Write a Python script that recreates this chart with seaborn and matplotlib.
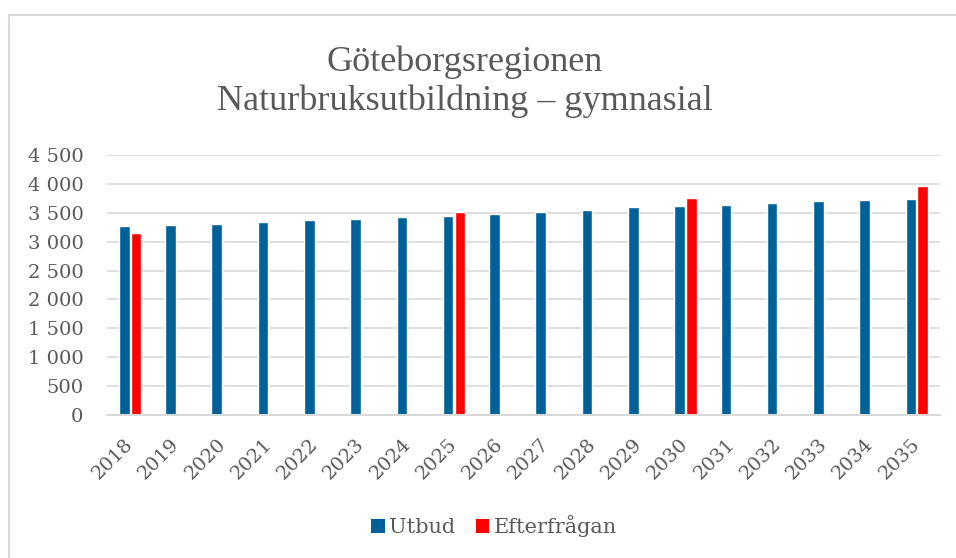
import matplotlib
matplotlib.use("Agg")
import matplotlib.pyplot as plt
import seaborn as sns
import pandas as pd
import numpy as np
from matplotlib.ticker import FuncFormatter, MultipleLocator
from matplotlib.lines import Line2D
from matplotlib.patches import Patch

years = [str(y) for y in range(2018, 2036)]
utbud = [3280, 3297, 3309, 3338, 3372, 3395, 3424, 3453, 3488,
         3517, 3552, 3598, 3621, 3644, 3673, 3702, 3719, 3737]
efterfragan = [3147, np.nan, np.nan, np.nan, np.nan, np.nan, np.nan, 3517, np.nan,
               np.nan, np.nan, np.nan, 3754, np.nan, np.nan, np.nan, np.nan, 3962]
series_names = ["Utbud", "Efterfrågan"]
colors = ["#006098", "#FF0000"]
title = "Göteborgsregionen\nNaturbruksutbildning – gymnasial"

df = pd.DataFrame({
    "year": years * 2,
    "value": utbud + efterfragan,
    "series": [series_names[0]] * len(years) + [series_names[1]] * len(years),
})

sns.set_theme(style="white")
plt.rcParams["font.family"] = ["DejaVu Serif"]
txt = "#595959"

fig = plt.figure(figsize=(9.56, 5.58), dpi=100)
ax = fig.add_axes([107/956, 1-414.7/558, (940-107)/956, (414.7-155.3)/558])

sns.barplot(data=df, x="year", y="value", hue="series", hue_order=series_names,
            palette=colors, width=0.51, gap=0.1, errorbar=None, ax=ax,
            legend=False, saturation=1)

ax.set_ylim(0, 4500)
ax.set_xlim(-0.5, len(years) - 0.5)
ax.yaxis.set_major_locator(MultipleLocator(500))
ax.yaxis.set_major_formatter(FuncFormatter(lambda v, p: f"{int(v):,}".replace(",", " ")))
ax.grid(axis="y", color="#d9d9d9", linewidth=1.2)
ax.set_axisbelow(True)
for s in ["top", "right", "left"]:
    ax.spines[s].set_visible(False)
ax.spines["bottom"].set_color("#d9d9d9")
ax.spines["bottom"].set_linewidth(1.5)
ax.set_xlabel("")
ax.set_ylabel("")
ax.tick_params(axis="both", length=0, colors=txt, labelsize=14)
ax.tick_params(axis="y", pad=17)
ax.tick_params(axis="x", pad=19)
ax.set_xticks(range(len(years)))
ax.set_xticklabels(years, rotation=45, ha="right", va="center",
                   rotation_mode="anchor", fontsize=14, color=txt)

fig.text(465/956, 1-82/558, title, ha="center", va="center", fontsize=26,
         color=txt, linespacing=1.2, family=["Liberation Serif"])

handles = [Patch(facecolor=c, edgecolor="none") for c in colors]
fig.legend(handles, series_names, loc="center", bbox_to_anchor=(494/956, 1-526/558),
           ncol=2, frameon=False, fontsize=15, labelcolor=txt,
           handlelength=0.65, handleheight=0.65, handletextpad=0.2, columnspacing=1.0)

# frame (top and left edges visible in the reference)
fig.add_artist(Line2D([9/956, 9/956], [0, 1-15/558], color="#d9d9d9", lw=1.5,
                      transform=fig.transFigure))
fig.add_artist(Line2D([9/956, 1], [1-15/558, 1-15/558], color="#d9d9d9", lw=1.5,
                      transform=fig.transFigure))

fig.savefig("out.png", dpi=100)
